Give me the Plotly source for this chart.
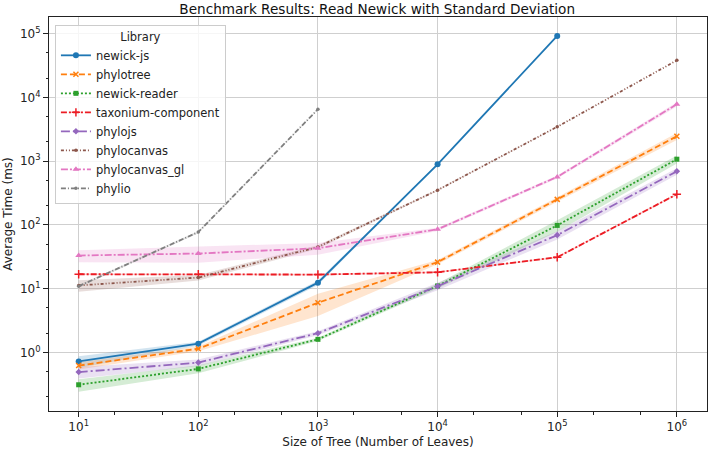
import plotly.graph_objects as go

# ---- data ----
sizes = [10, 100, 1000, 10000, 100000, 1000000]
libraries = ["newick-js", "phylotree", "newick-reader", "taxonium-component",
             "phylojs", "phylocanvas", "phylocanvas_gl", "phylio"]

newick_js_mean = [0.72, 1.37, 12.4, 890, 92000]
newick_js_std = [0.15, 0.1, 1.0, 20, 500]
phylotree_mean = [0.62, 1.14, 6.0, 26, 251, 2450]
phylotree_std = [0.08, 0.1, 2.3, 2, 20, 300]
newick_reader_mean = [0.31, 0.55, 1.6, 11, 98, 1070]
newick_reader_std = [0.07, 0.08, 0.1, 1, 20, 150]
taxonium_mean = [16.8, 16.8, 16.6, 18, 31, 302]
taxonium_std = [0.5, 0.5, 0.5, 0.5, 1, 10]
phylojs_mean = [0.49, 0.69, 2.0, 10.9, 69, 690]
phylojs_std = [0.1, 0.08, 0.15, 1.5, 10, 80]
phylocanvas_mean = [11.2, 14.9, 45, 350, 3450, 38000]
phylocanvas_std = [2.3, 1.5, 3, 10, 50, 500]
phylocanvas_gl_mean = [33, 35.5, 43, 85, 565, 7800]
phylocanvas_gl_std = [7, 10, 9, 5, 30, 600]
phylio_mean = [10.9, 77, 6500]
phylio_std = [0.5, 3, 100]

y_tick_vals = [1, 10, 100, 1000, 10000, 100000]
y_tick_text = ["10<sup>0</sup>", "10<sup>1</sup>", "10<sup>2</sup>",
               "10<sup>3</sup>", "10<sup>4</sup>", "10<sup>5</sup>"]
x_tick_vals = [10, 100, 1000, 10000, 100000, 1000000]
x_tick_text = ["10<sup>1</sup>", "10<sup>2</sup>", "10<sup>3</sup>",
               "10<sup>4</sup>", "10<sup>5</sup>", "10<sup>6</sup>"]

means = [newick_js_mean, phylotree_mean, newick_reader_mean, taxonium_mean,
         phylojs_mean, phylocanvas_mean, phylocanvas_gl_mean, phylio_mean]
stds = [newick_js_std, phylotree_std, newick_reader_std, taxonium_std,
        phylojs_std, phylocanvas_std, phylocanvas_gl_std, phylio_std]

# ---- styles ----
colors = ["#1f77b4", "#ff7f0e", "#2ca02c", "#ec1c24",
          "#9467bd", "#8c564b", "#e377c2", "#7f7f7f"]
dashes = ["solid", "6px,3px", "2px,2px", "6px,2px,2px,2px",
          "9px,3px,2px,3px", "3px,2px,1px,2px,1px,2px", "7px,2px,2px,2px",
          "5px,2px,1px,2px"]
symbols = ["circle", "x-thin", "square", "cross-thin", "diamond",
           "circle", "triangle-up", "circle"]
msizes = [6, 5, 5, 6, 5, 3.5, 6, 3.5]


def rgba(hexc, a):
    h = hexc.lstrip("#")
    return "rgba(%d,%d,%d,%.2f)" % (int(h[0:2], 16), int(h[2:4], 16), int(h[4:6], 16), a)


fig = go.Figure()

# bands
for i, lib in enumerate(libraries):
    m = means[i]
    s = stds[i]
    xs = sizes[:len(m)]
    up = [a + b for a, b in zip(m, s)]
    lo = [a - b for a, b in zip(m, s)]
    fig.add_trace(go.Scatter(
        x=xs + xs[::-1], y=up + lo[::-1], fill="toself",
        fillcolor=rgba(colors[i], 0.2), line=dict(width=0),
        mode="lines", showlegend=False, hoverinfo="skip"))

# lines
for i, lib in enumerate(libraries):
    m = means[i]
    xs = sizes[:len(m)]
    thin = symbols[i].endswith("-thin")
    fig.add_trace(go.Scatter(
        x=xs, y=m, name=lib, mode="lines+markers",
        line=dict(color=colors[i], width=1.8, dash=dashes[i]),
        marker=dict(symbol=symbols[i], size=msizes[i], color=colors[i],
                    line=dict(color=colors[i], width=1.5 if thin else 0))))

font_family = "DejaVu Sans"
fig.update_layout(
    width=709, height=451,
    margin=dict(l=49, r=2, t=17, b=40),
    paper_bgcolor="white", plot_bgcolor="white",
    font=dict(family=font_family, size=12, color="#222"),
    title=dict(text="Benchmark Results: Read Newick with Standard Deviation",
               x=0.532, xanchor="center", y=0.98, yanchor="middle",
               font=dict(size=13.6, color="#111")),
    legend=dict(x=0.009, y=0.98, xanchor="left", yanchor="top",
                bgcolor="rgba(255,255,255,0.8)", bordercolor="#cccccc",
                borderwidth=1, font=dict(size=11.5),
                title=dict(text="Library", side="top center", font=dict(size=11.5)),
                tracegroupgap=0, itemwidth=30),
    showlegend=True,
)

fig.update_xaxes(
    type="log", range=[0.752, 6.252],
    tickvals=x_tick_vals, ticktext=x_tick_text, tickfont=dict(size=12),
    showgrid=True, gridcolor="#cfcfcf", gridwidth=1,
    showline=True, linecolor="#222", linewidth=1, mirror=True,
    ticks="outside", ticklen=5, tickcolor="#222",
    minor=dict(ticks="outside", ticklen=2.5, tickcolor="#222", showgrid=False),
    title=dict(text="Size of Tree (Number of Leaves)", standoff=4, font=dict(size=12)),
    zeroline=False,
)
fig.update_yaxes(
    type="log", range=[-0.92, 5.26],
    tickvals=y_tick_vals, ticktext=y_tick_text, tickfont=dict(size=12),
    showgrid=True, gridcolor="#cfcfcf", gridwidth=1,
    showline=True, linecolor="#222", linewidth=1, mirror=True,
    ticks="outside", ticklen=5, tickcolor="#222",
    minor=dict(ticks="outside", ticklen=2.5, tickcolor="#222", showgrid=False),
    title=dict(text="Average Time (ms)", standoff=4, font=dict(size=12)),
    zeroline=False,
)

fig.write_html("out.html")
